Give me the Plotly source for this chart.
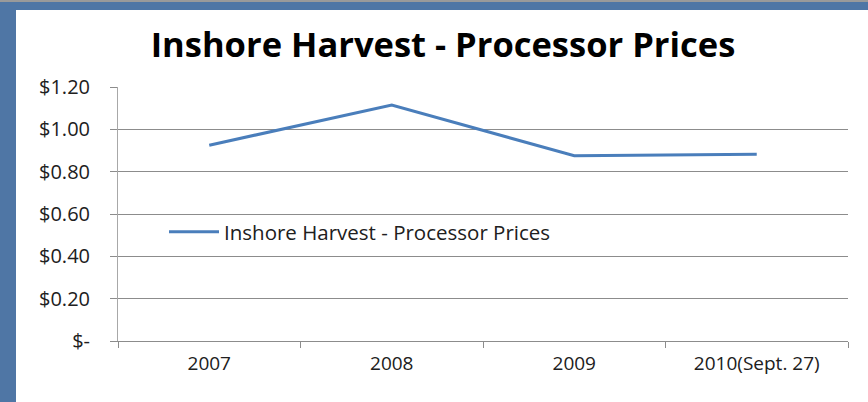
import plotly.graph_objects as go

categories = ["2007", "2008", "2009", "2010(Sept. 27)"]
prices = [0.925, 1.115, 0.875, 0.882]
series_name = "Inshore Harvest - Processor Prices"
y_tick_vals = [0, 0.2, 0.4, 0.6, 0.8, 1.0, 1.2]
y_tick_text = ["$-", "$0.20", "$0.40", "$0.60", "$0.80", "$1.00", "$1.20"]

W, H = 868, 402
L, R, T, B = 118, 20, 87, 61
pw, ph = W - L - R, H - T - B

def px(X):
    return (X - L) / pw

def py(Y):
    return (H - B - Y) / ph

FONT = "Open Sans"

fig = go.Figure()
fig.add_trace(go.Scatter(
    x=categories, y=prices, mode="lines", name=series_name,
    line=dict(color="#4a7ebb", width=3),
))

fig.update_layout(
    width=W, height=H,
    margin=dict(l=L, r=R, t=T, b=B),
    paper_bgcolor="#4f76a5",
    plot_bgcolor="rgba(0,0,0,0)",
    title=dict(text="<b>Inshore Harvest - Processor Prices</b>",
               x=443 / W, xanchor="center", y=1 - 45 / H, yanchor="middle",
               font=dict(family=FONT, size=34.5, color="#000000")),
    showlegend=True,
    legend=dict(x=px(164), y=py(232), xanchor="left", yanchor="middle",
                bgcolor="rgba(0,0,0,0)", itemwidth=50,
                font=dict(family=FONT, size=20.5, color="#202020")),
    font=dict(family=FONT, size=19, color="#202020"),
    shapes=[
        dict(type="rect", xref="paper", yref="paper",
             x0=px(16), x1=px(W + 5), y0=py(H + 5), y1=py(10),
             fillcolor="white", line=dict(width=0), layer="below"),
        dict(type="line", xref="paper", yref="paper",
             x0=px(0), x1=px(W), y0=py(1), y1=py(1),
             line=dict(color="#9a9a9a", width=2), layer="below"),
    ],
)

fig.update_xaxes(
    type="category", showgrid=False, showline=True, linecolor="#8c8c8c", linewidth=1,
    ticks="outside", tickson="boundaries", ticklen=6, tickcolor="#8c8c8c",
    tickfont=dict(family=FONT, size=19, color="#202020"),
    ticklabelstandoff=5,
    range=[-0.5, 3.5], zeroline=False,
)
fig.update_yaxes(
    range=[0, 1.2], tickvals=y_tick_vals, ticktext=y_tick_text,
    showgrid=True, gridcolor="#8c8c8c", gridwidth=1,
    showline=True, linecolor="#a8a8a8", linewidth=1,
    ticks="outside", ticklen=7, tickcolor="#8c8c8c",
    tickfont=dict(family=FONT, size=20, color="#202020"),
    ticklabelstandoff=16,
    zeroline=False,
)

fig.write_html("out.html", config={"displayModeBar": False},
               post_script="document.body.style.margin='0';")
